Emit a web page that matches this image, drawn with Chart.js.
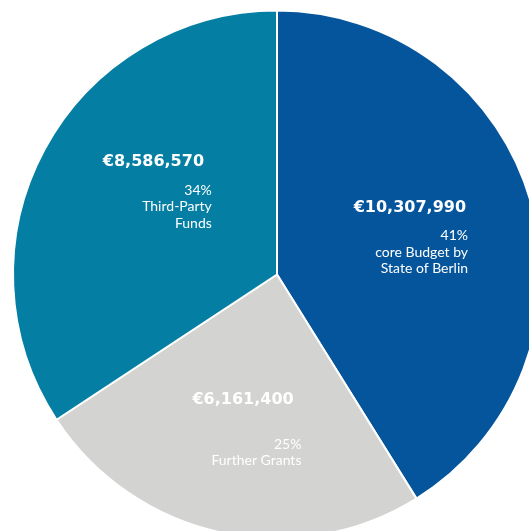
<!DOCTYPE html>
<html>
<head>
<meta charset="utf-8">
<script src="https://cdn.jsdelivr.net/npm/chart.js@4/dist/chart.umd.min.js"></script>
<style>
  html, body { margin: 0; padding: 0; background: #fff; overflow: hidden; width: 529px; height: 531px; }
  #wrap { position: absolute; left: 0; top: 0; }
</style>
</head>
<body>
<div id="wrap"><canvas id="chart-budget" width="554" height="549"></canvas></div>
<script>
// ─── DATA ────────────────────────────────────────────────────
const categories = ['core Budget by\nState of Berlin', 'Further Grants', 'Third-Party\nFunds'];
const amounts = [10307990, 6161400, 8586570];
const valueLabels = ['€10,307,990', '€6,161,400', '€8,586,570'];
const percentLabels = ['41%', '25%', '34%'];

const COLORS = ['#05559c', '#d3d3d2', '#047fa3'];

// ─── LABEL PLUGIN ────────────────────────────────────────────
// labels sit on the sector centroid, nudged a little like the original
const sliceLabels = {
  id: 'sliceLabels',
  afterDatasetsDraw(chart, args, opts) {
    const ctx = chart.ctx;
    const arcs = chart.getDatasetMeta(0).data;
    ctx.save();
    ctx.fillStyle = '#ffffff';
    arcs.forEach((arc, i) => {
      const { x, y, startAngle, endAngle, outerRadius } = arc.getProps(['x', 'y', 'startAngle', 'endAngle', 'outerRadius'], true);
      const theta = endAngle - startAngle;
      const mid = (startAngle + endAngle) / 2;
      const d = 4 * outerRadius * Math.sin(theta / 2) / (3 * theta);
      const nudge = opts.nudge[i] || [0, 0];
      const cx = x + Math.cos(mid) * d + nudge[0];
      const cy = y + Math.sin(mid) * d + nudge[1];

      ctx.font = opts.boldFont;
      const bw = ctx.measureText(valueLabels[i]).width;
      const blockW = Math.max(bw + 2, opts.minWidth);
      const right = cx + blockW / 2;

      ctx.textBaseline = 'middle';
      ctx.textAlign = 'left';
      ctx.fillText(valueLabels[i], right - blockW, cy - 30);

      const lines = [percentLabels[i]].concat(categories[i].split('\n'));
      ctx.font = opts.font;
      ctx.textAlign = 'right';
      lines.forEach((ln, k) => {
        const yy = cy + 31 - (lines.length - 1 - k) * 16.5;
        ctx.fillText(ln, right, yy);
      });
    });
    ctx.restore();
  }
};

// ─── CHART ───────────────────────────────────────────────────
new Chart(document.getElementById('chart-budget'), {
  type: 'pie',
  data: {
    labels: categories,
    datasets: [{
      data: amounts,
      backgroundColor: COLORS,
      borderColor: '#ffffff',
      borderWidth: 2,
      radius: 264,
    }]
  },
  options: {
    responsive: false,
    animation: false,
    layout: { padding: 0 },
    plugins: {
      legend: { display: false },
      tooltip: { enabled: false },
      sliceLabels: {
        nudge: [[8, -1], [4, 0], [7, -14]],
        minWidth: 109,
        boldFont: "bold 16px 'DejaVu Sans'",
        font: "14px Lato",
      }
    }
  },
  plugins: [sliceLabels]
});
</script>
</body>
</html>
